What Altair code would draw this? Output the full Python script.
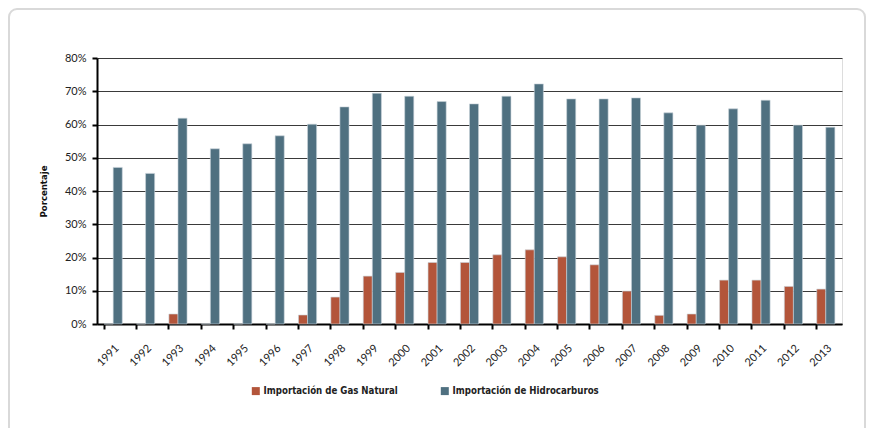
import altair as alt
import pandas as pd

years = [str(y) for y in range(1991, 2014)]
gas_natural = [0, 0, 3.0, 0, 0, 0, 2.7, 8.1, 14.4, 15.5, 18.5, 18.5, 20.8, 22.3,
               20.2, 17.8, 9.9, 2.6, 3.0, 13.2, 13.2, 11.3, 10.5]
hidrocarburos = [47.1, 45.3, 61.9, 52.7, 54.2, 56.6, 60.1, 65.3, 69.4, 68.5, 66.9,
                 66.2, 68.5, 72.2, 67.7, 67.7, 68.0, 63.5, 59.8, 64.7, 67.3, 59.8, 59.2]
series = ["Importación de Gas Natural", "Importación de Hidrocarburos"]
colors = ["#b3553a", "#4f7080"]

rows = []
for i, y in enumerate(years):
    rows.append({"year": y, "serie": series[0], "value": gas_natural[i] / 100})
    rows.append({"year": y, "serie": series[1], "value": hidrocarburos[i] / 100})
df = pd.DataFrame(rows)

W, H = 745, 266
LABEL_FONT = "Lato"
BOLD_FONT = "DejaVu Sans Condensed, Roboto Condensed, Liberation Sans Narrow, Roboto, sans-serif"

bars = alt.Chart(df).mark_bar(stroke="#c9d4da", strokeWidth=0.6).encode(
    x=alt.X("year:N", sort=years, title=None,
            scale=alt.Scale(paddingInner=0.44, paddingOuter=0.22),
            axis=alt.Axis(labelAngle=-45, bandPosition=0, ticks=True, tickSize=5,
                          tickColor="black", tickWidth=2, domainColor="black",
                          domainWidth=2, labelFont=LABEL_FONT, labelFontSize=11,
                          labelColor="#222", labelPadding=13, grid=False)),
    xOffset=alt.XOffset("serie:N", sort=series, scale=alt.Scale(paddingInner=0, paddingOuter=0)),
    y=alt.Y("value:Q", title="Porcentaje",
            scale=alt.Scale(domain=[0, 0.8], nice=False),
            axis=alt.Axis(format=".0%", values=[i / 10 for i in range(9)],
                          tickSize=5, tickColor="black", tickWidth=2,
                          domainColor="black", domainWidth=2,
                          gridColor="#3a3a3a", gridWidth=1.2,
                          labelFont=LABEL_FONT, labelFontSize=11, labelColor="#222",
                          labelPadding=6, titleFont=BOLD_FONT, titleFontSize=9.5,
                          titleFontWeight="bold", titleColor="#111", titlePadding=16)),
    color=alt.Color("serie:N", sort=series,
                    scale=alt.Scale(domain=series, range=colors),
                    legend=alt.Legend(title=None, orient="none", direction="horizontal",
                                      legendX=154, legendY=328, symbolType="square",
                                      symbolSize=64, symbolStrokeWidth=0,
                                      labelFont=BOLD_FONT, labelFontSize=9.6,
                                      labelFontWeight="bold", labelColor="#222",
                                      columnPadding=42, labelOffset=3,
                                      labelLimit=300)),
)

border = alt.Chart(pd.DataFrame({"k": [0]})).mark_rect(
    fill=None, stroke="#d9d9d9", strokeWidth=2, cornerRadius=8
).encode(
    x=alt.value(-88), x2=alt.value(768), y=alt.value(-49), y2=alt.value(400)
)

chart = alt.layer(border, bars).properties(
    width=W, height=H,
    autosize=alt.AutoSizeParams(type="none"),
    padding={"left": 89, "top": 50, "right": 25, "bottom": 104},
).configure_view(stroke=None).configure(background="white")

chart.save("out.html", embed_options={"renderer": "svg", "actions": False})
